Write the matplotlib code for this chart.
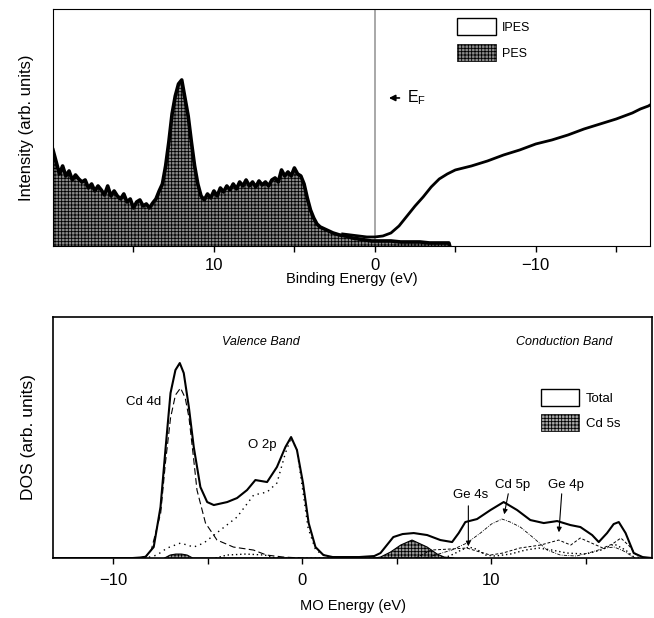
import numpy as np
import matplotlib
matplotlib.use("Agg")
import matplotlib.pyplot as plt
from matplotlib.patches import Patch
from matplotlib.ticker import FixedLocator

plt.rcParams['font.family'] = ['Liberation Sans', 'DejaVu Sans']
plt.rcParams['hatch.color'] = 'black'
plt.rcParams['hatch.linewidth'] = 0.6

# ---- top panel: PES / IPES (binding energy, eV; intensity arb.) ----
pes_e = list(np.round(np.arange(20.0, 3.3, -0.2), 1)) + \
    [3.0, 2.6, 2.2, 1.8, 1.4, 1.0, 0.6, 0.2, -0.4, -1.0, -1.6, -2.2, -2.8, -3.4, -4.0, -4.6, -4.65]
pes_i = [96, 84, 72, 80, 70, 75, 66, 71, 67, 64,
         66, 58, 62, 55, 60, 56, 51, 60, 50, 55,
         50, 47, 52, 44, 47, 38, 44, 46, 40, 42,
         38, 43, 47, 55, 62, 80, 104, 132, 150, 162,
         166, 148, 130, 104, 80, 62, 50, 46, 52, 48,
         55, 50, 58, 54, 60, 56, 62, 57, 64, 60,
         66, 60, 64, 59, 65, 61, 64, 60, 66, 68,
         64, 76, 70, 74, 70, 78, 72, 70, 62, 48,
         36, 28, 22, 19,
         16, 13, 11, 10, 8, 7, 6, 5, 5, 5, 4, 4, 4, 3, 3, 3, 0]

ipes_e = [2.0, 1.5, 1.0, 0.5, 0.0, -0.5, -1.0, -1.5, -2.0, -2.5, -3.0, -3.5, -4.0,
          -4.5, -5.0, -5.5, -6.0, -7.0, -8.0, -9.0, -10.0, -11.0, -12.0, -13.0,
          -14.0, -15.0, -16.0, -16.5, -17.0, -17.1]
ipes_i = [12, 11, 10, 9, 9, 10, 13, 20, 30, 40, 49, 59, 67,
          72, 76, 78, 80, 85, 91, 96, 102, 106, 111, 117,
          122, 127, 133, 137, 140, 141]

top_major = [10, 0, -10]
top_minor = [15, 5, -5, -15]

# ---- bottom panel: calculated DOS (MO energy, eV) ----
tot_e = [-13.2, -9.0, -8.6, -8.3, -7.87, -7.51, -7.25, -6.98, -6.72, -6.49, -6.28, -6.01,
         -5.75, -5.40, -5.04, -4.69, -3.98, -3.46, -2.93, -2.49, -1.87, -1.35, -0.90,
         -0.60, -0.29, 0.03, 0.33, 0.69, 1.11, 1.6, 3.0, 3.8, 4.13, 4.81, 5.3, 5.89, 6.6,
         7.3, 7.92, 8.27, 8.62, 9.24, 9.95, 10.65, 11.36, 12.06, 12.77, 13.48, 14.18,
         14.71, 15.33, 15.68, 16.12, 16.47, 16.74, 17.1, 17.53, 18.0, 18.5]
tot_d = [0, 0, 0.5, 1.3, 11, 51, 108, 165, 188, 195, 185, 151,
         111, 71, 56, 53, 56, 60, 68, 78, 76, 91, 111,
         121, 108, 75, 35, 11, 3, 1, 1, 2, 5, 21, 24, 25, 23,
         18, 16, 25, 36, 39, 48, 56, 48, 38, 35, 37, 33,
         31, 23, 16, 25, 34, 36, 25, 5, 1, 0]

cd4d_e = [-9.0, -8.3, -8.0, -7.5, -7.25, -6.98, -6.72, -6.45, -6.2, -6.0, -5.75, -5.58,
          -5.13, -4.52, -3.65, -2.59, -1.9, -1.0, 0.0]
cd4d_d = [0, 1, 8, 45, 95, 140, 163, 170, 160, 140, 98, 68,
          35, 18, 11, 8, 3, 1, 0]

o2p_e = [-9.0, -8.3, -7.7, -7.16, -6.45, -5.75, -5.22, -4.34, -3.46, -2.58, -1.87,
         -1.35, -0.9, -0.6, -0.29, 0.0, 0.3, 0.7, 0.95, 1.5]
o2p_d = [0, 0, 3, 10, 15, 11, 15, 28, 41, 63, 66,
         75, 105, 120, 108, 70, 30, 8, 5, 0]

cd5s_e = [-7.3, -7.0, -6.7, -6.4, -6.1, -5.8, 3.8, 4.13, 4.66, 5.2, 5.8, 6.6, 7.13, 7.5, 8.0]
cd5s_d = [0, 3, 4, 4, 3, 0, 0, 1, 6, 13, 18, 11, 4, 1, 0]

ge4s_e = [-4.6, -4.0, -3.0, -2.0, -1.4, 7.5, 8.0, 8.4, 8.8, 9.2, 9.7, 10.2, 11.0, 11.8,
          12.5, 13.2, 14.0, 15.0, 15.8, 16.5, 17.1, 17.6]
ge4s_d = [0, 3, 4, 3, 0, 0, 4, 8, 11, 9, 3, 2, 4, 8,
          10, 8, 5, 4, 8, 14, 8, 0]

cd5p_e = [6.5, 7.9, 8.7, 9.42, 10.0, 10.56, 11.0, 11.53, 12.24, 12.95, 13.65, 14.5,
          15.3, 16.0, 16.5, 17.0, 17.6]
cd5p_d = [0, 8, 15, 25, 34, 39, 36, 31, 20, 8, 3, 2,
          6, 10, 11, 7, 0]

ge4p_e = [6.0, 6.8, 7.8, 8.7, 9.4, 9.95, 10.6, 11.5, 12.6, 13.56, 14.2, 14.7, 15.3,
          15.9, 16.4, 16.85, 17.3, 17.8]
ge4p_d = [0, 8, 9, 10, 6, 3, 5, 10, 13, 18, 13, 20, 15,
          10, 14, 20, 12, 0]

bot_major = [-10, 0, 10]
bot_minor = [-5, 5, 15]

fig = plt.figure(figsize=(6.54, 6.18), dpi=100)

# top panel
ax1 = fig.add_axes([0.081, 0.602, 0.913, 0.3835])
ax1.fill_between(pes_e, pes_i, 0, facecolor='#8a8a8a', hatch='+++++', linewidth=0)
ax1.plot(pes_e, pes_i, color='black', lw=2.6)
ax1.plot(ipes_e, ipes_i, color='black', lw=2.0)
ax1.axvline(0, color='#9a9a9a', lw=1.2, zorder=0)
ax1.annotate('', xy=(-0.7, 148), xytext=(-1.7, 148),
             arrowprops=dict(arrowstyle='-|>', color='black', lw=1.2, mutation_scale=9))
ax1.text(-2.0, 148, 'E$_\\mathregular{F}$', fontsize=11.5, va='center', ha='left')
ax1.set_xlim(20, -17.1)
ax1.set_ylim(0, 237)
ax1.set_yticks([])
ax1.xaxis.set_major_locator(FixedLocator(top_major))
ax1.xaxis.set_minor_locator(FixedLocator(top_minor))
ax1.tick_params(axis='x', which='both', direction='out', length=4, width=1, labelsize=12, pad=5)
ax1.set_xlabel('Binding Energy (eV)', fontsize=10.5, labelpad=-1)
ax1.set_ylabel('Intensity (arb. units)', fontsize=12, labelpad=14)
h1 = [Patch(facecolor='white', edgecolor='black', lw=1.0),
      Patch(facecolor='#8a8a8a', edgecolor='black', hatch='+++++', lw=0.5)]
ax1.legend(h1, ['IPES', 'PES'], loc='upper left', bbox_to_anchor=(0.677, 0.962),
           frameon=False, fontsize=9, handlelength=3.1, handleheight=1.75,
           labelspacing=0.7, handletextpad=0.5, borderpad=0, borderaxespad=0)

# bottom panel
ax2 = fig.add_axes([0.081, 0.097, 0.916, 0.39])
ax2.fill_between(cd5s_e, cd5s_d, 0, facecolor='#9a9a9a', hatch='+++++', linewidth=0)
ax2.plot(cd5s_e, cd5s_d, color='black', lw=0.8)
ax2.plot(cd4d_e, cd4d_d, color='black', lw=0.8, dashes=(6, 3))
ax2.plot(o2p_e, o2p_d, color='black', lw=1.0, dashes=(1, 3))
ax2.plot(ge4s_e, ge4s_d, color='black', lw=1.0, dashes=(1, 2))
ax2.plot(cd5p_e, cd5p_d, color='black', lw=0.6, dashes=(4, 1.5, 1, 1.5))
ax2.plot(ge4p_e, ge4p_d, color='black', lw=0.7, dashes=(3, 2))
ax2.plot(tot_e, tot_d, color='black', lw=1.5)

ax2.text(-2.22, 216, 'Valence Band', fontsize=9, style='italic', ha='center', va='center')
ax2.text(13.86, 216, 'Conduction Band', fontsize=9, style='italic', ha='center', va='center')
ax2.text(-7.45, 156, 'Cd 4d', fontsize=9.5, ha='right', va='center')
ax2.text(-2.13, 113, 'O 2p', fontsize=9.5, ha='center', va='center')
ax2.text(8.89, 63, 'Ge 4s', fontsize=9.5, ha='center', va='center')
ax2.text(11.14, 73, 'Cd 5p', fontsize=9.5, ha='center', va='center')
ax2.text(13.92, 73, 'Ge 4p', fontsize=9.5, ha='center', va='center')
arr = dict(arrowstyle='-|>', color='black', lw=0.8, mutation_scale=7)
ax2.annotate('', xy=(8.78, 9), xytext=(8.78, 55), arrowprops=arr)
ax2.annotate('', xy=(10.65, 41), xytext=(10.92, 67), arrowprops=arr)
ax2.annotate('', xy=(13.56, 23), xytext=(13.73, 67), arrowprops=arr)

ax2.set_xlim(-13.2, 18.5)
ax2.set_ylim(0, 241)
ax2.set_yticks([])
ax2.xaxis.set_major_locator(FixedLocator(bot_major))
ax2.xaxis.set_minor_locator(FixedLocator(bot_minor))
ax2.tick_params(axis='x', which='both', direction='out', length=4, width=1, labelsize=12, pad=7)
ax2.set_xlabel('MO Energy (eV)', fontsize=10.5, labelpad=8)
ax2.set_ylabel('DOS (arb. units)', fontsize=12.5, labelpad=12)
for s in ax2.spines.values():
    s.set_linewidth(1.2)
h2 = [Patch(facecolor='white', edgecolor='black', lw=1.0),
      Patch(facecolor='#a8a8a8', edgecolor='black', hatch='+++++', lw=0.5)]
ax2.legend(h2, ['Total', 'Cd 5s'], loc='upper left', bbox_to_anchor=(0.815, 0.701),
           frameon=False, fontsize=9.5, handlelength=2.9, handleheight=1.6,
           labelspacing=0.6, handletextpad=0.5, borderpad=0, borderaxespad=0)

fig.savefig('out.png', dpi=100)
